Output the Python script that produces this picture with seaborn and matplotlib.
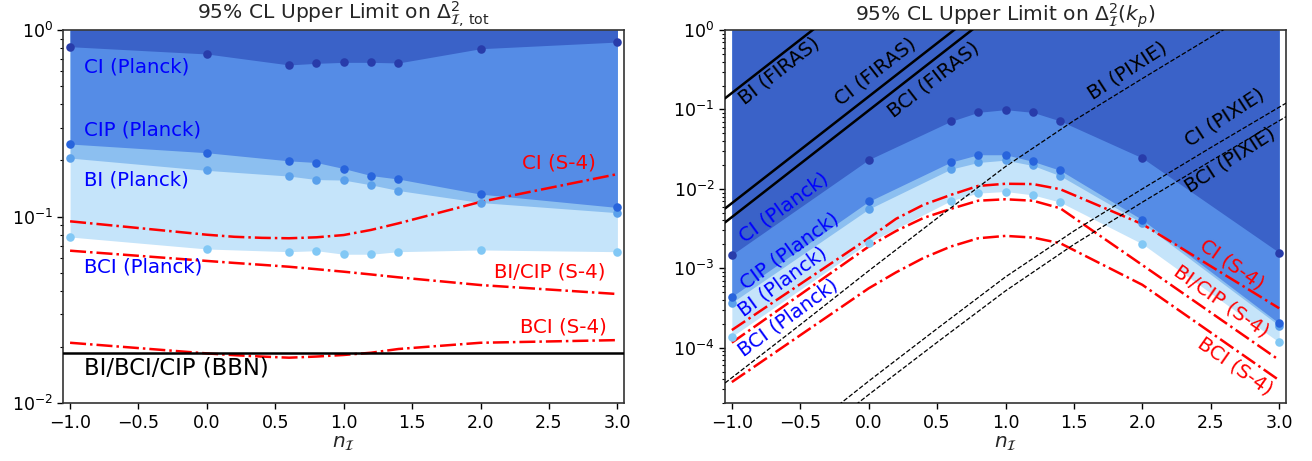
import matplotlib
matplotlib.use("Agg")
import matplotlib.pyplot as plt
import seaborn as sns

# ---------------- data ----------------
n_planck = [-1.0, 0.0, 0.6, 0.8, 1.0, 1.2, 1.4, 2.0, 3.0]
n_s4 = [-1.0, 0.0, 0.2, 0.4, 0.6, 0.8, 1.0, 1.2, 1.4, 2.0, 3.0]

# left panel: total amplitude
tot_CI_planck = [0.814, 0.744, 0.650, 0.663, 0.671, 0.671, 0.666, 0.794, 0.862]
tot_CIP_planck = [0.245, 0.220, 0.199, 0.195, 0.181, 0.166, 0.159, 0.132, 0.112]
tot_BI_planck = [0.206, 0.177, 0.165, 0.158, 0.157, 0.148, 0.138, 0.119, 0.105]
tot_BCI_planck = [0.0778, 0.0671, 0.0649, 0.0657, 0.0629, 0.0629, 0.0649, 0.0663, 0.0649]

tot_CI_s4 = [0.0944, 0.0800, 0.0780, 0.0770, 0.0766, 0.0775, 0.0797, 0.0849, 0.0921, 0.120, 0.169]
tot_BICIP_s4 = [0.0657, 0.0579, 0.0565, 0.0552, 0.0539, 0.0523, 0.0507, 0.0490, 0.0473, 0.0430, 0.0385]
tot_BCI_s4 = [0.0211, 0.0185, 0.0181, 0.0178, 0.01755, 0.0178, 0.01815, 0.01866, 0.01954, 0.0211, 0.0218]
bbn_limit = 0.0187

# right panel: amplitude at k_p
kp_CI_planck = [0.00148, 0.0233, 0.0708, 0.0919, 0.0994, 0.0919, 0.0716, 0.0245, 0.00158]
kp_CIP_planck = [0.00044, 0.00694, 0.0217, 0.0269, 0.0269, 0.0222, 0.0171, 0.00408, 0.000203]
kp_BI_planck = [0.00037, 0.00556, 0.0177, 0.0215, 0.0230, 0.0197, 0.0146, 0.0037, 0.00019]
kp_BCI_planck = [0.000138, 0.00211, 0.00708, 0.00885, 0.00927, 0.0084, 0.0068, 0.00203, 0.000117]

kp_CI_s4 = [1.67e-4, 0.0024, 0.0042, 0.0063, 0.0084, 0.0109, 0.0116, 0.0115, 0.0099, 0.0036, 3.14e-4]
kp_BICIP_s4 = [1.16e-4, 0.00188, 0.00295, 0.0043, 0.0056, 0.0071, 0.0074, 0.0071, 0.0057, 0.0011, 7.0e-5]
kp_BCI_s4 = [3.7e-5, 0.00056, 0.00089, 0.00135, 0.00188, 0.00239, 0.00256, 0.00244, 0.00207, 0.00062, 3.9e-5]

n_firas = [-1.05, 1.0]
BI_firas = [0.138, 78.3]
CI_firas = [0.00566, 3.2]
BCI_firas = [0.00378, 2.14]

n_pixie = [-1.05, -0.5, 0.0, 0.5, 1.0, 1.5, 2.0, 2.5, 3.05]
BI_pixie = [3.6e-5, 1.95e-4, 9.3e-4, 4.27e-3, 0.0191, 0.0724, 0.245, 0.813, 2.9]
CI_pixie = [1.5e-6, 7.9e-6, 3.8e-5, 1.74e-4, 7.8e-4, 2.95e-3, 0.0100, 0.0331, 0.120]
BCI_pixie = [1.0e-6, 5.4e-6, 2.57e-5, 1.17e-4, 5.2e-4, 2.0e-3, 6.8e-3, 0.0224, 0.081]

# ---------------- style ----------------
sns.set_style("ticks")
plt.rcParams["font.family"] = ["DejaVu Sans"]
plt.rcParams["mathtext.fontset"] = "dejavusans"
plt.rcParams["axes.edgecolor"] = "0.2"
plt.rcParams["xtick.color"] = "black"
plt.rcParams["ytick.color"] = "black"

fill_col = {"CI": "#3a62c8", "CIP": "#558ce6", "BI": "#8cbff0", "BCI": "#c5e4fa"}
dot_col = {"CI": "#283caa", "CIP": "#2864dc", "BI": "#5aa0eb", "BCI": "#82c8f5"}

TICK_FS = 12.5
LAB_FS = 14.2
BBN_FS = 16.3
TITLE_FS = 14.6
XLAB_FS = 14.5

fig = plt.figure(figsize=(13.12, 4.61), dpi=100)
axL = fig.add_axes([0.0482, 0.1252, 0.4276, 0.8097])
axR = fig.add_axes([0.5526, 0.1252, 0.4276, 0.8097])


def planck_layers(ax, series, top):
    # draw lightest first, darkest last
    for key in ["BCI", "BI", "CIP", "CI"]:
        y = series[key]
        ax.fill_between(n_planck, y, top, color=fill_col[key], lw=0, zorder=1)
    for key in ["BCI", "BI", "CIP", "CI"]:
        sns.scatterplot(x=n_planck, y=series[key], color=dot_col[key], s=38,
                        linewidth=0, ax=ax, zorder=5)


def red_line(ax, y):
    sns.lineplot(x=n_s4, y=y, color="red", linestyle="-.", lw=1.8,
                 estimator=None, sort=False, ax=ax, zorder=4)


# ---------------- left panel ----------------
axL.set_yscale("log")
axL.set_xlim(-1.05, 3.05)
axL.set_ylim(1e-2, 1.0)
planck_layers(axL, {"CI": tot_CI_planck, "CIP": tot_CIP_planck,
                    "BI": tot_BI_planck, "BCI": tot_BCI_planck}, axL.get_ylim()[1])
for y in [tot_CI_s4, tot_BICIP_s4, tot_BCI_s4]:
    red_line(axL, y)
axL.axhline(bbn_limit, color="black", lw=1.8, zorder=4)

axL.text(-0.895, 0.636, "CI (Planck)", color="blue", fontsize=LAB_FS, va="center", ha="left", zorder=6)
axL.text(-0.895, 0.291, "CIP (Planck)", color="blue", fontsize=LAB_FS, va="center", ha="left", zorder=6)
axL.text(-0.895, 0.157, "BI (Planck)", color="blue", fontsize=LAB_FS, va="center", ha="left", zorder=6)
axL.text(-0.895, 0.054, "BCI (Planck)", color="blue", fontsize=LAB_FS, va="center", ha="left", zorder=6)
axL.text(2.84, 0.193, "CI (S-4)", color="red", fontsize=LAB_FS, va="center", ha="right", zorder=6)
axL.text(2.91, 0.0507, "BI/CIP (S-4)", color="red", fontsize=LAB_FS, va="center", ha="right", zorder=6)
axL.text(2.92, 0.0257, "BCI (S-4)", color="red", fontsize=LAB_FS, va="center", ha="right", zorder=6)
axL.text(-0.895, 0.0154, "BI/BCI/CIP (BBN)", color="black", fontsize=BBN_FS, va="center", ha="left", zorder=6)

axL.set_title(r"95% CL Upper Limit on $\Delta^2_{\mathcal{I},\,\mathrm{tot}}$", fontsize=TITLE_FS, pad=1)

# ---------------- right panel ----------------
axR.set_yscale("log")
axR.set_xlim(-1.05, 3.05)
axR.set_ylim(2e-5, 1.0)
planck_layers(axR, {"CI": kp_CI_planck, "CIP": kp_CIP_planck,
                    "BI": kp_BI_planck, "BCI": kp_BCI_planck}, axR.get_ylim()[1])
for y in [kp_CI_s4, kp_BICIP_s4, kp_BCI_s4]:
    red_line(axR, y)
for y in [BI_firas, CI_firas, BCI_firas]:
    sns.lineplot(x=n_firas, y=y, color="black", lw=1.8, estimator=None,
                 sort=False, ax=axR, zorder=4)
for y in [BI_pixie, CI_pixie, BCI_pixie]:
    sns.lineplot(x=n_pixie, y=y, color="black", lw=0.9, linestyle="--",
                 estimator=None, sort=False, ax=axR, zorder=4)
axR.set_xlim(-1.05, 3.05)
axR.set_ylim(2e-5, 1.0)

rot_planck = 36
axR.text(-0.62, 0.00582, "CI (Planck)", color="blue", fontsize=LAB_FS, rotation=rot_planck,
         ha="center", va="center", rotation_mode="anchor", zorder=6)
axR.text(-0.58, 0.00163, "CIP (Planck)", color="blue", fontsize=LAB_FS, rotation=rot_planck,
         ha="center", va="center", rotation_mode="anchor", zorder=6)
axR.text(-0.63, 0.00068, "BI (Planck)", color="blue", fontsize=LAB_FS, rotation=rot_planck,
         ha="center", va="center", rotation_mode="anchor", zorder=6)
axR.text(-0.585, 0.000242, "BCI (Planck)", color="blue", fontsize=LAB_FS, rotation=rot_planck,
         ha="center", va="center", rotation_mode="anchor", zorder=6)

rot_firas = 38
axR.text(-0.656, 0.308, "BI (FIRAS)", color="black", fontsize=LAB_FS, rotation=rot_firas,
         ha="center", va="center", rotation_mode="anchor", zorder=6)
axR.text(0.053, 0.303, "CI (FIRAS)", color="black", fontsize=LAB_FS, rotation=rot_firas,
         ha="center", va="center", rotation_mode="anchor", zorder=6)
axR.text(0.4725, 0.238, "BCI (FIRAS)", color="black", fontsize=LAB_FS, rotation=rot_firas,
         ha="center", va="center", rotation_mode="anchor", zorder=6)

rot_pixie = 33
axR.text(1.892, 0.308, "BI (PIXIE)", color="black", fontsize=LAB_FS, rotation=rot_pixie,
         ha="center", va="center", rotation_mode="anchor", zorder=6)
axR.text(2.602, 0.0795, "CI (PIXIE)", color="black", fontsize=LAB_FS, rotation=rot_pixie,
         ha="center", va="center", rotation_mode="anchor", zorder=6)
axR.text(2.641, 0.0233, "BCI (PIXIE)", color="black", fontsize=LAB_FS, rotation=rot_pixie,
         ha="center", va="center", rotation_mode="anchor", zorder=6)

rot_s4 = -35
axR.text(2.651, 0.0011, "CI (S-4)", color="red", fontsize=LAB_FS, rotation=rot_s4,
         ha="center", va="center", rotation_mode="anchor", zorder=6)
axR.text(2.578, 0.00038, "BI/CIP (S-4)", color="red", fontsize=LAB_FS, rotation=rot_s4,
         ha="center", va="center", rotation_mode="anchor", zorder=6)
axR.text(2.676, 5.9e-5, "BCI (S-4)", color="red", fontsize=LAB_FS, rotation=rot_s4,
         ha="center", va="center", rotation_mode="anchor", zorder=6)

axR.set_title(r"95% CL Upper Limit on $\Delta^2_{\mathcal{I}}(k_p)$", fontsize=TITLE_FS, pad=1)

for ax in (axL, axR):
    ax.set_xticks([-1.0, -0.5, 0.0, 0.5, 1.0, 1.5, 2.0, 2.5, 3.0])
    ax.tick_params(axis="both", which="major", labelsize=TICK_FS, length=4, width=1)
    ax.tick_params(axis="both", which="minor", length=2.5, width=0.8)
    ax.set_xlabel(r"$n_{\mathcal{I}}$", fontsize=XLAB_FS, labelpad=2)
    ax.set_ylabel("")
    for s in ax.spines.values():
        s.set_linewidth(1.2)
    if ax.get_legend() is not None:
        ax.get_legend().remove()

fig.savefig("out.png", dpi=100)
